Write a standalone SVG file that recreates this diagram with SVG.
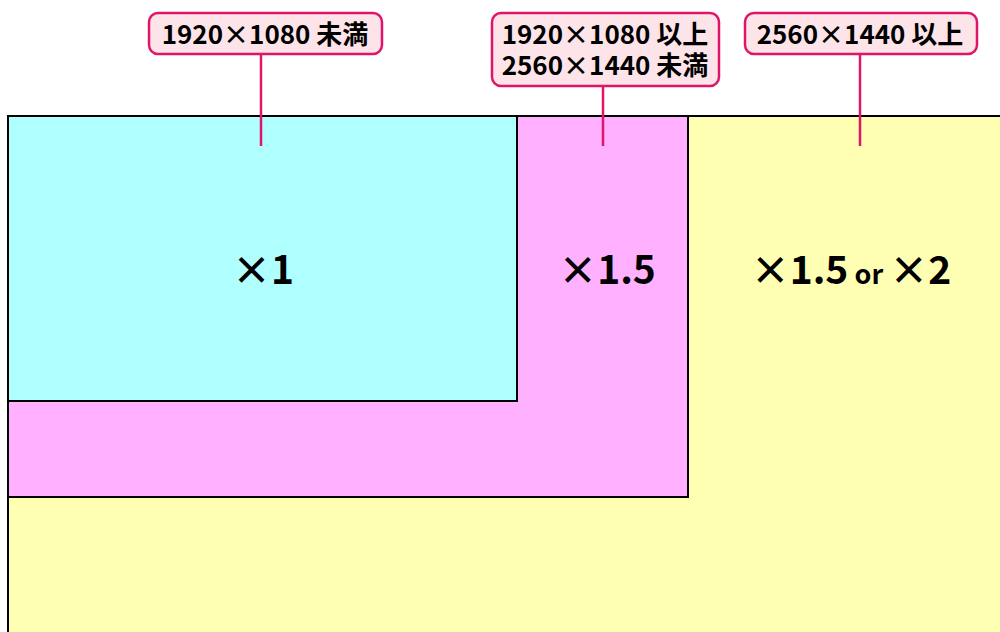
<svg xmlns="http://www.w3.org/2000/svg" width="1000" height="632" viewBox="0 0 1000 632">
<style>
.area{stroke:#000;stroke-width:2}
.lbl{fill:#fde4e8;stroke:#e0156a;stroke-width:2.5}
.lead{stroke:#e0156a;stroke-width:2.5;fill:none}
.t{font-family:"Noto Sans CJK JP","Noto Sans",sans-serif;font-weight:bold;fill:#000}
.s{font-size:26px}
.b{font-size:39px}
</style>
<rect width="1000" height="632" fill="#fff"/>
<g id="area-large"><rect class="area" x="8" y="116" width="1000" height="530" fill="#ffffb4"/>
<text class="t b" x="851" y="284" text-anchor="middle">×1.5<tspan font-size="27px"> or </tspan>×2</text></g>
<g id="area-medium"><rect class="area" x="8" y="116" width="680" height="381" fill="#ffb0ff"/>
<text class="t b" x="607" y="284" text-anchor="middle">×1.5</text></g>
<g id="area-small"><rect class="area" x="8" y="116" width="509" height="285" fill="#b0ffff"/>
<text class="t b" x="263" y="284" text-anchor="middle">×1</text></g>
<g id="connectors">
<line class="lead" x1="261" y1="54" x2="261" y2="146"/>
<line class="lead" x1="603" y1="86" x2="603" y2="146"/>
<line class="lead" x1="860" y1="54" x2="860" y2="146"/>
</g>
<g id="label-1"><rect class="lbl" x="149" y="13" width="233" height="41" rx="9"/>
<text class="t s" x="265" y="44" text-anchor="middle">1920×1080 未満</text></g>
<g id="label-2"><rect class="lbl" x="492" y="13" width="227" height="73" rx="9"/>
<text class="t s" text-anchor="middle"><tspan x="605" y="44">1920×1080 以上</tspan><tspan x="605" y="75">2560×1440 未満</tspan></text></g>
<g id="label-3"><rect class="lbl" x="745" y="13" width="232" height="41" rx="9"/>
<text class="t s" x="860" y="44" text-anchor="middle">2560×1440 以上</text></g>
</svg>
